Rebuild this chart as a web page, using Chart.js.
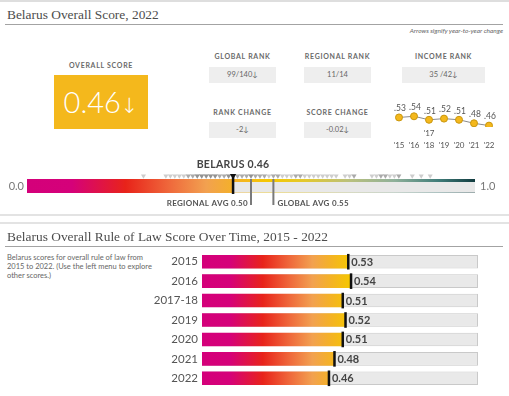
<!DOCTYPE html>
<html>
<head>
<meta charset="utf-8">
<script src="https://cdn.jsdelivr.net/npm/chart.js@4.4.1/dist/chart.umd.min.js"></script>
<style>
  body { margin: 0; width: 509px; height: 396px; position: relative; overflow: hidden; background: #fff; font-family: Lato, "DejaVu Sans", sans-serif; color: #555; }
  .abs { position: absolute; }
  .title { font-family: "Liberation Serif", serif; font-size: 13.4px; line-height: 18px; color: #4d4d4d; left: 7px; white-space: nowrap; }
  .rule { left: 5px; width: 498px; height: 1px; background: #a3a3a3; }
  .sep { left: 0; width: 509px; height: 2px; background: #e3e3e3; }
  .lbl { font-size: 7px; line-height: 8px; font-weight: bold; letter-spacing: 0.7px; color: #6a6a6a; text-align: center; white-space: nowrap; }
  .box { background: #eee; font-size: 7.5px; color: #666; text-align: center; height: 16px; line-height: 16px; }
  canvas { position: absolute; }
</style>
</head>
<body>
<div class="abs" style="left:0;top:0;width:509px;height:2px;background:#dedede"></div>
<div class="abs title" style="top:6px">Belarus Overall Score, 2022</div>
<div class="abs rule" style="top:24px"></div>
<div class="abs" style="right:6px;top:27px;font-size:6.5px;line-height:8px;font-style:italic;color:#666">Arrows signify year-to-year change</div>

<div class="abs lbl" style="left:54px;top:61px;width:94px">OVERALL SCORE</div>
<div class="abs" style="left:54px;top:75px;width:94px;height:54px;line-height:54px;background:#f4b81c;color:#fff;font-size:29px;font-weight:300;text-align:center">0.46<span style="font-size:21px;font-family:'DejaVu Sans'">↓</span></div>

<div class="abs lbl" style="left:209px;top:52px;width:67px">GLOBAL RANK</div>
<div class="abs box" style="left:209px;top:67px;width:67px">99/140↓</div>
<div class="abs lbl" style="left:304px;top:52px;width:67px">REGIONAL RANK</div>
<div class="abs box" style="left:304px;top:67px;width:67px">11/14</div>
<div class="abs lbl" style="left:402px;top:52px;width:83px">INCOME RANK</div>
<div class="abs box" style="left:402px;top:67px;width:83px">35 /42↓</div>
<div class="abs lbl" style="left:209px;top:108px;width:67px">RANK CHANGE</div>
<div class="abs box" style="left:209px;top:122px;width:67px">-2↓</div>
<div class="abs lbl" style="left:304px;top:108px;width:67px">SCORE CHANGE</div>
<div class="abs box" style="left:304px;top:122px;width:67px">-0.02↓</div>

<canvas id="trendChart" width="125" height="51" style="left:380px;top:100px"></canvas>
<canvas id="scaleChart" width="509" height="65" style="left:0;top:150px"></canvas>

<div class="abs sep" style="top:214px"></div>
<div class="abs sep" style="top:222px"></div>
<div class="abs title" style="top:228px">Belarus Overall Rule of Law Score Over Time, 2015 - 2022</div>
<div class="abs rule" style="top:246px"></div>
<div class="abs" style="left:7px;top:253px;width:150px;font-size:7.5px;line-height:9px;color:#666">Belarus scores for overall rule of law from 2015 to 2022. (Use the left menu to explore other scores.)</div>

<canvas id="barChart" width="359" height="146" style="left:150px;top:250px"></canvas>

<script>
// scores
const years = ["2015", "2016", "2017-18", "2019", "2020", "2021", "2022"];
const yearScores = [0.53, 0.54, 0.51, 0.52, 0.51, 0.48, 0.46];
const trendTicks = [["", "'15"], ["", "'16"], ["'17", "'18"], ["", "'19"], ["", "'20"], ["", "'21"], ["", "'22"]];

const belarusScore = 0.46;
const regionalAvg = 0.5;
const globalAvg = 0.55;
const scaleMax = 1;

// other countries (grey triangles above the scale), estimated
const otherScores = [
  0.26, 0.31, 0.32, 0.33, 0.34, 0.35, 0.36, 0.36, 0.37, 0.37, 0.38, 0.38, 0.38,
  0.39, 0.39, 0.39, 0.4, 0.4, 0.4, 0.41, 0.41, 0.41, 0.42, 0.42, 0.42, 0.43,
  0.43, 0.44, 0.44, 0.45, 0.45, 0.45, 0.47, 0.47, 0.48, 0.48, 0.49, 0.49,
  0.5, 0.5, 0.5, 0.51, 0.51, 0.52, 0.52, 0.53, 0.53, 0.54, 0.55, 0.55, 0.56,
  0.56, 0.57, 0.58, 0.59, 0.6, 0.6, 0.61, 0.61, 0.62, 0.63, 0.64, 0.65, 0.66,
  0.67, 0.68, 0.69, 0.71, 0.72, 0.73, 0.73, 0.77, 0.78, 0.79, 0.79, 0.8, 0.8,
  0.81, 0.82, 0.83, 0.83, 0.86, 0.88, 0.9,
];

// colour ramp along the 0..1 score scale
const rampStops = [
  [0, "#d4007a"], [0.1, "#d5017a"], [0.22, "#e8231a"], [0.32, "#ef6a3c"],
  [0.4, "#f2a150"], [0.47, "#f4b323"], [0.54, "#f5c800"], [0.62, "#e3c82e"],
  [0.72, "#b9c07d"], [0.82, "#8fb09a"], [0.92, "#3f7b78"], [1, "#123c40"],
];

const scoreGradient = (ctx, scale) => {
  const g = ctx.createLinearGradient(scale.getPixelForValue(0), 0, scale.getPixelForValue(scaleMax), 0);
  rampStops.forEach(([p, c]) => g.addColorStop(p, c));
  return g;
};

const noChrome = { legend: { display: false }, tooltip: { enabled: false } };

// little trend line in the header
const trendValueLabels = {
  id: "trendValueLabels",
  afterDatasetsDraw(chart) {
    const { ctx } = chart;
    ctx.save();
    ctx.font = "8.5px Lato";
    ctx.fillStyle = "#555";
    ctx.textAlign = "center";
    ctx.textBaseline = "middle";
    chart.getDatasetMeta(0).data.forEach((pt, i) => {
      ctx.fillText(yearScores[i].toFixed(2).slice(1), pt.x + 1, pt.y - 9);
    });
    ctx.restore();
  },
};

new Chart(document.getElementById("trendChart"), {
  type: "line",
  data: {
    labels: trendTicks,
    datasets: [{
      data: yearScores,
      borderColor: "#8a8a8a",
      borderWidth: 1,
      pointRadius: 3.5,
      pointBackgroundColor: "#f4b81c",
      pointBorderColor: "#c9960e",
      pointBorderWidth: 1,
    }],
  },
  options: {
    responsive: false,
    animation: false,
    layout: { padding: { left: 19, right: 16, top: 0, bottom: 0 } },
    plugins: noChrome,
    scales: {
      x: {
        offset: false,
        grid: { display: false, drawTicks: false },
        border: { display: false },
        ticks: { color: "#555", font: { family: "Lato", size: 8, lineHeight: 1.5 }, padding: 0, maxRotation: 0, autoSkip: false },
      },
      y: { display: false, min: 0.4481, max: 0.6369 },
    },
  },
  plugins: [trendValueLabels],
});

// 0..1 scale with country markers
const scaleBar = {
  id: "scaleBar",
  afterDatasetsDraw(chart) {
    const { ctx } = chart;
    const xs = chart.scales.x;
    const x0 = xs.getPixelForValue(0);
    const x1 = xs.getPixelForValue(scaleMax);
    const xb = xs.getPixelForValue(belarusScore);
    const top = 29, h = 14;
    ctx.save();
    ctx.fillStyle = "#e8e8e8";
    ctx.fillRect(xb, top, x1 - xb, h);
    ctx.fillStyle = scoreGradient(ctx, xs);
    ctx.fillRect(x0, top, xb - x0, h);
    ctx.fillRect(xb, top, x1 - xb, 3);
    ctx.globalAlpha = 0.35;
    ctx.fillRect(xb, top + h - 1, x1 - xb, 1);
    ctx.globalAlpha = 1;

    ctx.fillStyle = "#7a7a7a";
    [regionalAvg, globalAvg].forEach((v) => {
      ctx.fillRect(xs.getPixelForValue(v) - 1, top, 2, 26);
    });
    ctx.fillStyle = "#111";
    ctx.fillRect(xb - 1.25, 26, 2.5, 18);

    ctx.textBaseline = "middle";
    ctx.fillStyle = "#555";
    ctx.font = "bold 8px Lato";
    ctx.letterSpacing = "0.3px";
    ctx.textAlign = "right";
    ctx.fillText("REGIONAL AVG " + regionalAvg.toFixed(2), xs.getPixelForValue(regionalAvg) - 3, 53);
    ctx.textAlign = "left";
    ctx.fillText("GLOBAL AVG " + globalAvg.toFixed(2), xs.getPixelForValue(globalAvg) + 4, 53);

    ctx.font = "bold 10.5px Lato";
    ctx.fillStyle = "#444";
    ctx.textAlign = "center";
    ctx.fillText("BELARUS " + belarusScore.toFixed(2), xb, 15);

    ctx.letterSpacing = "0px";
    ctx.font = "11px Lato";
    ctx.fillStyle = "#777";
    ctx.textAlign = "right";
    ctx.fillText("0.0", x0 - 3, 36);
    ctx.textAlign = "left";
    ctx.fillText("1.0", x1 + 5, 36);
    ctx.restore();
  },
};

new Chart(document.getElementById("scaleChart"), {
  type: "scatter",
  data: {
    datasets: [
      { data: [{ x: belarusScore, y: 0 }], pointStyle: "triangle", rotation: 180, radius: 3.6, backgroundColor: "#111", borderWidth: 0 },
      { data: otherScores.map((v) => ({ x: v, y: 0 })), pointStyle: "triangle", rotation: 180, radius: 2.9, backgroundColor: "rgba(90,90,90,0.3)", borderWidth: 0 },
    ],
  },
  options: {
    responsive: false,
    animation: false,
    layout: { padding: { left: 27, right: 34, top: 0, bottom: 0 } },
    plugins: noChrome,
    scales: {
      x: { display: false, min: 0, max: scaleMax },
      y: { display: false, min: -40, max: 25 },
    },
  },
  plugins: [scaleBar],
});

// score over time bars
const barMarkers = {
  id: "barMarkers",
  afterDatasetsDraw(chart) {
    const { ctx } = chart;
    ctx.save();
    ctx.font = "bold 11px Lato";
    ctx.textBaseline = "middle";
    chart.getDatasetMeta(0).data.forEach((bar, i) => {
      ctx.fillStyle = "#111";
      ctx.fillRect(bar.x - 1.25, bar.y - bar.height / 2 - 1, 2.5, bar.height + 2);
      ctx.fillStyle = "#444";
      ctx.fillText(yearScores[i].toFixed(2), bar.x + 3, bar.y + 0.5);
    });
    ctx.restore();
  },
};

new Chart(document.getElementById("barChart"), {
  type: "bar",
  data: {
    labels: years,
    datasets: [
      {
        data: yearScores,
        backgroundColor: (c) => (c.chart.chartArea ? scoreGradient(c.chart.ctx, c.chart.scales.x) : "#f4b81c"),
        borderWidth: 0,
        grouped: false,
        order: 1,
        barPercentage: 0.7,
        categoryPercentage: 1,
      },
      {
        data: years.map(() => scaleMax),
        backgroundColor: "#e9e9e9",
        borderColor: "#c9c9c9",
        borderWidth: 1,
        grouped: false,
        order: 2,
        barPercentage: 0.7,
        categoryPercentage: 1,
      },
    ],
  },
  options: {
    indexAxis: "y",
    responsive: false,
    animation: false,
    layout: { padding: { top: 2, bottom: 8, right: 31, left: 0 } },
    plugins: noChrome,
    scales: {
      x: { display: false, min: 0, max: scaleMax },
      y: {
        grid: { display: false, drawTicks: false },
        border: { display: false },
        ticks: { color: "#555", font: { family: "Lato", size: 11.5 }, padding: 4 },
        afterFit: (s) => {
          s.width = 52;
          s.paddingTop = 0;
          s.paddingBottom = 0;
        },
      },
    },
  },
  plugins: [barMarkers],
});
</script>
</body>
</html>
